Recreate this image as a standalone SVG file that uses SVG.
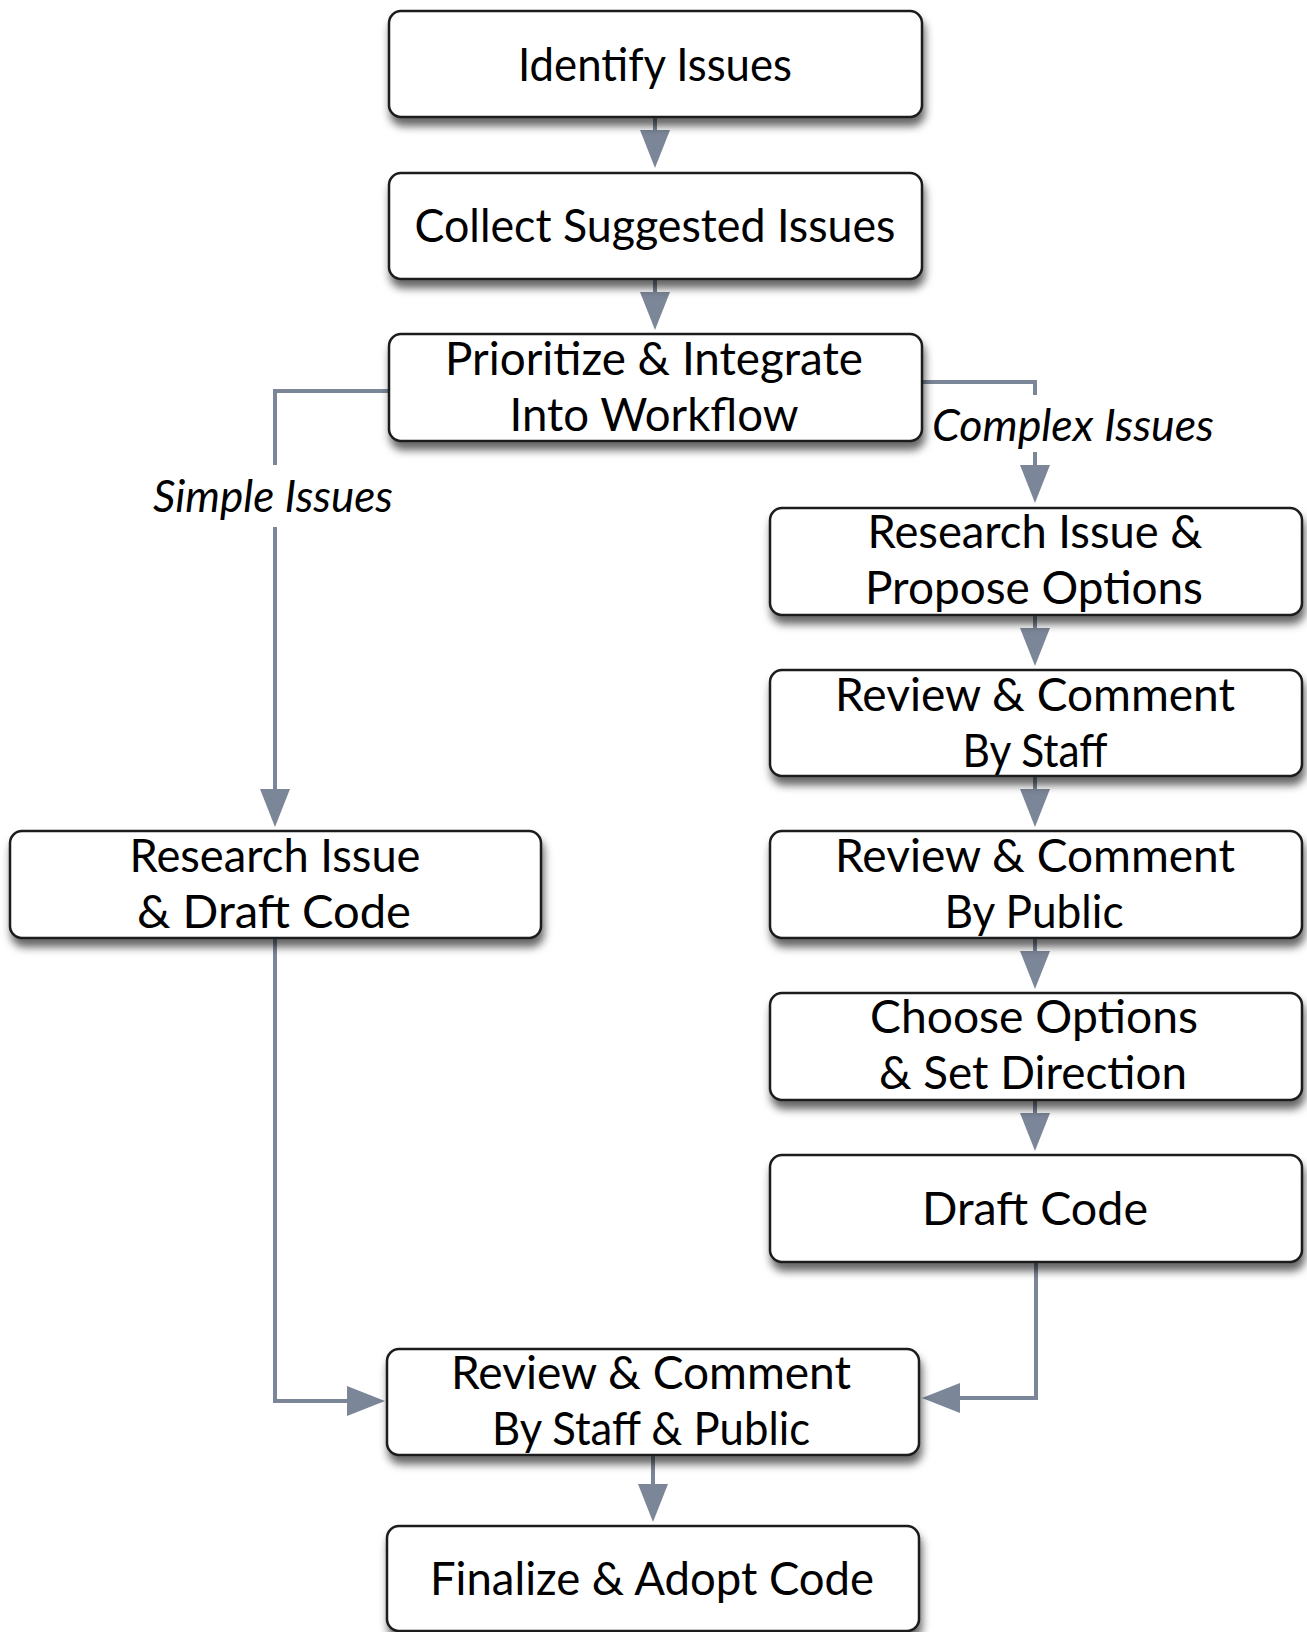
<svg xmlns="http://www.w3.org/2000/svg" width="1307" height="1632" viewBox="0 0 1307 1632">
<defs>
<filter id="sh" x="-10%" y="-20%" width="120%" height="150%">
<feDropShadow dx="2" dy="8" stdDeviation="4.5" flood-color="#000" flood-opacity="0.6"/>
</filter>
<marker id="ah" markerUnits="userSpaceOnUse" markerWidth="38" markerHeight="30" refX="33" refY="15" orient="auto" viewBox="0 0 38 30">
<path d="M0,0 L38,15 L0,30 z" fill="#7b8698"/>
</marker>
</defs>
<style>
.box{fill:#fff;stroke:#1a1a1a;stroke-width:2.5;filter:url(#sh)}
.t{font-family:Lato,"Open Sans","Liberation Sans",sans-serif;font-size:46px;fill:#000;text-anchor:middle}
.lbl{font-family:Lato,"Open Sans","Liberation Sans",sans-serif;font-size:44px;font-style:italic;fill:#000;text-anchor:middle}
.c{fill:none;stroke:#7b8698;stroke-width:4}
.a{marker-end:url(#ah)}
</style>
<rect width="1307" height="1632" fill="#fff"/>
<g id="connectors">
<path class="c a" d="M655,117 V163"/>
<path class="c a" d="M655,279 V325"/>
<path class="c" d="M389,391 H275 V465"/>
<path class="c a" d="M275,527 V822"/>
<path class="c" d="M922,382 H1035 V395"/>
<path class="c a" d="M1035,452 V498"/>
<path class="c a" d="M1035,615 V661"/>
<path class="c a" d="M1035,776 V822"/>
<path class="c a" d="M1035,938 V984"/>
<path class="c a" d="M1035,1100 V1146"/>
<path class="c a" d="M1036,1262 V1398 H927"/>
<path class="c a" d="M275,938 V1401 H380"/>
<path class="c a" d="M653,1455 V1517"/>
<text class="lbl" x="273" y="512" textLength="240" lengthAdjust="spacingAndGlyphs">Simple Issues</text>
<text class="lbl" x="1073" y="441" textLength="282" lengthAdjust="spacingAndGlyphs">Complex Issues</text>
</g>
<g id="n1"><rect class="box" x="389" y="11" width="533" height="106" rx="12"/><text class="t" x="655" y="81" textLength="274" lengthAdjust="spacingAndGlyphs">Identify Issues</text></g>
<g id="n2"><rect class="box" x="389" y="173" width="533" height="106" rx="12"/><text class="t" x="655" y="242" textLength="481" lengthAdjust="spacingAndGlyphs">Collect Suggested Issues</text></g>
<g id="n3"><rect class="box" x="389" y="334" width="533" height="107" rx="12"/><text class="t" x="654" y="375" textLength="418" lengthAdjust="spacingAndGlyphs">Prioritize &amp; Integrate</text><text class="t" x="654" y="431" textLength="289" lengthAdjust="spacingAndGlyphs">Into Workflow</text></g>
<g id="n4"><rect class="box" x="10" y="831" width="531" height="107" rx="12"/><text class="t" x="275" y="872" textLength="291" lengthAdjust="spacingAndGlyphs">Research Issue</text><text class="t" x="274" y="928" textLength="274" lengthAdjust="spacingAndGlyphs">&amp; Draft Code</text></g>
<g id="n5"><rect class="box" x="770" y="508" width="532" height="107" rx="12"/><text class="t" x="1035" y="548" textLength="335" lengthAdjust="spacingAndGlyphs">Research Issue &amp;</text><text class="t" x="1034" y="604" textLength="338" lengthAdjust="spacingAndGlyphs">Propose Options</text></g>
<g id="n6"><rect class="box" x="770" y="670" width="532" height="106" rx="12"/><text class="t" x="1035" y="711" textLength="400" lengthAdjust="spacingAndGlyphs">Review &amp; Comment</text><text class="t" x="1035" y="767" textLength="145" lengthAdjust="spacingAndGlyphs">By Staff</text></g>
<g id="n7"><rect class="box" x="770" y="831" width="532" height="107" rx="12"/><text class="t" x="1035" y="872" textLength="400" lengthAdjust="spacingAndGlyphs">Review &amp; Comment</text><text class="t" x="1034" y="928" textLength="179" lengthAdjust="spacingAndGlyphs">By Public</text></g>
<g id="n8"><rect class="box" x="770" y="993" width="532" height="107" rx="12"/><text class="t" x="1034" y="1033" textLength="328" lengthAdjust="spacingAndGlyphs">Choose Options</text><text class="t" x="1033" y="1089" textLength="308" lengthAdjust="spacingAndGlyphs">&amp; Set Direction</text></g>
<g id="n9"><rect class="box" x="770" y="1155" width="532" height="107" rx="12"/><text class="t" x="1035" y="1225" textLength="226" lengthAdjust="spacingAndGlyphs">Draft Code</text></g>
<g id="n10"><rect class="box" x="387" y="1349" width="532" height="106" rx="12"/><text class="t" x="651" y="1389" textLength="400" lengthAdjust="spacingAndGlyphs">Review &amp; Comment</text><text class="t" x="651" y="1445" textLength="318" lengthAdjust="spacingAndGlyphs">By Staff &amp; Public</text></g>
<g id="n11"><rect class="box" x="387" y="1526" width="532" height="105" rx="12"/><text class="t" x="652" y="1595" textLength="444" lengthAdjust="spacingAndGlyphs">Finalize &amp; Adopt Code</text></g>
</svg>
